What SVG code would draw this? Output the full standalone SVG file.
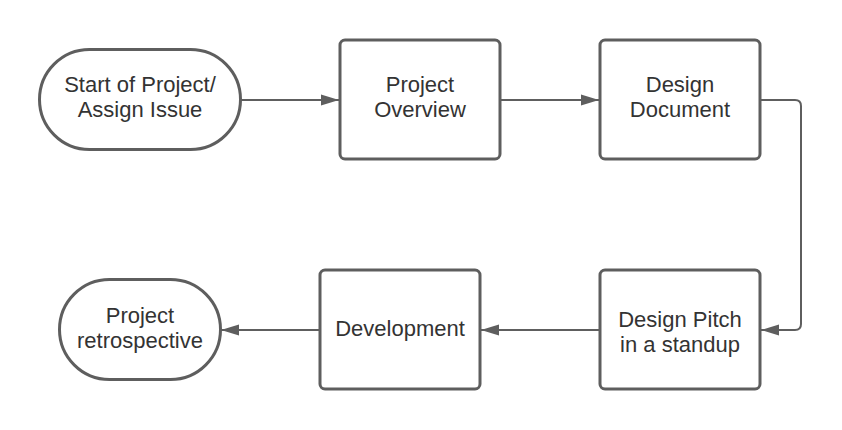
<svg xmlns="http://www.w3.org/2000/svg" width="842" height="430" viewBox="0 0 842 430">
<style>
.n{fill:#ffffff;stroke:#5e5e5e;stroke-width:3}
.t{font-family:"Liberation Sans",Arial,sans-serif;font-size:22px;fill:#333333;text-anchor:middle}
.c{fill:none;stroke:#5e5e5e;stroke-width:2}
</style>
<defs>
<marker id="ah" markerWidth="18" markerHeight="12" refX="18" refY="6" orient="auto" markerUnits="userSpaceOnUse">
<path d="M0,0.5 L18,6 L0,11.5 Z" fill="#5e5e5e"/>
</marker>
</defs>
<rect width="842" height="430" fill="#ffffff"/>
<g id="connectors">
<path class="c" d="M241,100 L339,100" marker-end="url(#ah)"/>
<path class="c" d="M500,100 L599,100" marker-end="url(#ah)"/>
<path class="c" d="M760,100 L795,100 Q801,100 801,106 L801,324 Q801,330 795,330 L761,330" marker-end="url(#ah)"/>
<path class="c" d="M600,330 L481,330" marker-end="url(#ah)"/>
<path class="c" d="M320,330 L221,330" marker-end="url(#ah)"/>
</g>
<g id="start">
<rect class="n" x="39.5" y="49.5" width="201" height="100" rx="50" ry="50"/>
<text class="t" x="140" y="92">Start of Project/</text>
<text class="t" x="140" y="117">Assign Issue</text>
</g>
<g id="overview">
<rect class="n" x="340" y="40" width="160" height="119" rx="5"/>
<text class="t" x="420" y="92">Project</text>
<text class="t" x="420" y="117">Overview</text>
</g>
<g id="design-doc">
<rect class="n" x="600" y="40" width="160" height="119" rx="5"/>
<text class="t" x="680" y="92">Design</text>
<text class="t" x="680" y="117">Document</text>
</g>
<g id="design-pitch">
<rect class="n" x="600" y="270" width="160" height="119" rx="5"/>
<text class="t" x="680" y="327">Design Pitch</text>
<text class="t" x="680" y="352">in a standup</text>
</g>
<g id="development">
<rect class="n" x="320" y="270" width="160" height="119" rx="5"/>
<text class="t" x="400" y="336">Development</text>
</g>
<g id="retro">
<rect class="n" x="59.5" y="279.5" width="161" height="100" rx="50" ry="50"/>
<text class="t" x="140" y="323">Project</text>
<text class="t" x="140" y="348">retrospective</text>
</g>
</svg>
